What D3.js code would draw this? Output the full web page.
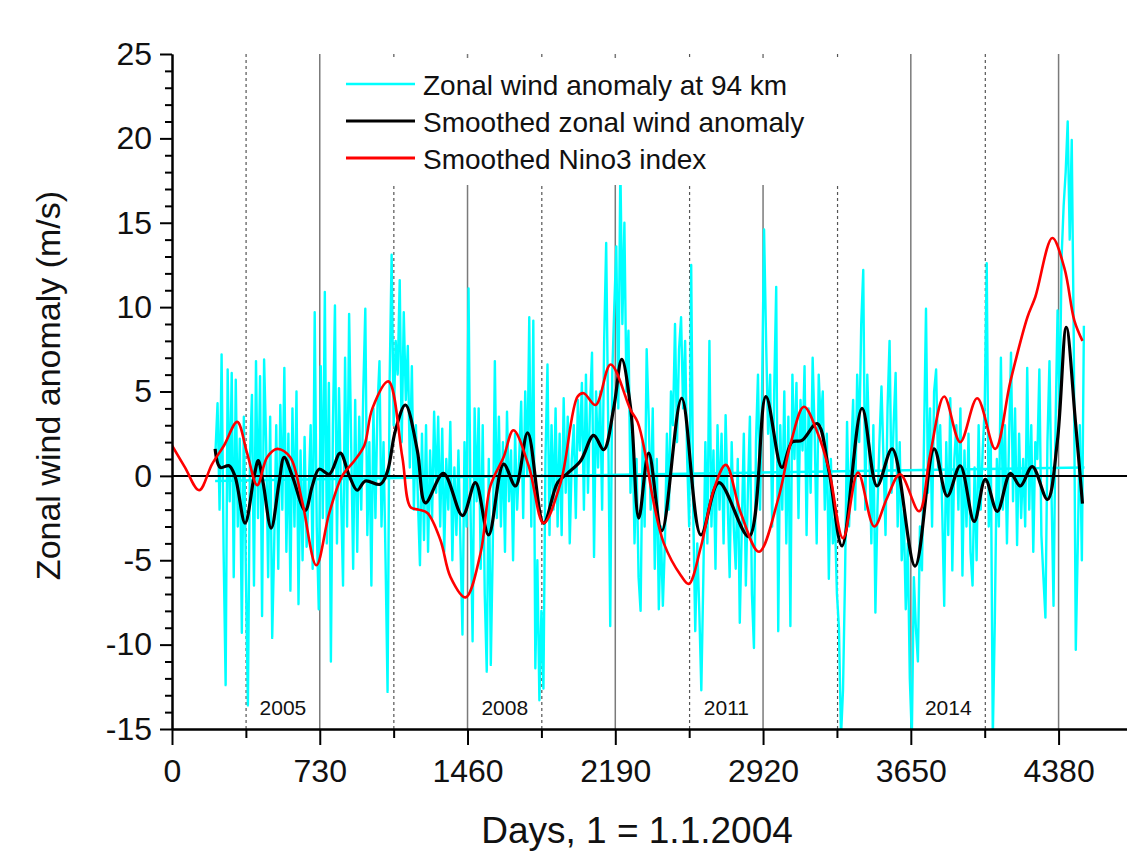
<!DOCTYPE html>
<html>
<head>
<meta charset="utf-8">
<script src="https://cdn.jsdelivr.net/npm/d3@7"></script>
<style>
  body { margin: 0; background: #fff; }
  text { font-family: "Liberation Sans", Arial, sans-serif; fill: #111; }
</style>
</head>
<body>
<svg id="chart" width="1127" height="855"></svg>
<script>
// ---------------- data ----------------
// zonal wind anomaly at 94 km, one value every 10 days from day 215
const windStart = 215;
const windStep = 10;
const windValues = [
  1.5, 4.3, -2.0, 7.2, -4.5, -12.4, 6.3, -1.5, 6.1, -6.0,
  5.7, -3.0, 2.2, -9.3, 3.5, -5.8, -13.6, 1.0, 4.8, -6.5,
  6.8, -2.5, 5.9, -8.3, 6.9, 2.0, -6.0, 3.5, -9.6, -4.0,
  3.0, -5.5, 4.2, -2.0, 6.4, -4.5, 2.5, -6.8, 4.0, -3.0,
  5.0, -7.6, 1.5, -5.0, 2.3, -4.2, -1.0, 3.0, -5.5, 9.7,
  -3.0, -7.9, 6.5, -2.5, 10.9, -4.0, 5.5, -11.0, 3.0, 10.1,
  -4.0, 5.2, -1.0, -6.5, 7.0, -3.0, 9.6, 2.0, -5.5, 4.5,
  -4.5, 3.5, -2.0, 5.0, 9.9, -3.5, 2.0, -6.5, 4.0, -2.5,
  4.0, 6.8, -3.0, 2.0, -5.0, -12.8, 5.5, 13.1, 3.0, 8.0,
  6.0, 11.6, 2.0, 9.7, 4.5, 7.7, 0.5, 6.5, -2.0, 3.0,
  -1.5, -5.3, 2.5, -3.8, 3.0, -4.5, 1.5, -2.5, 3.8, -1.0,
  3.5, -3.0, 2.8, -4.5, 1.0, -2.0, 3.2, -5.0, 0.5, -3.5,
  1.5, -4.0, -9.4, 2.0, -3.0, 11.1, -2.0, -9.8, 4.0, -1.5,
  4.0, -5.5, 3.0, -7.0, -11.6, 1.0, -11.2, -4.0, 6.8, -2.5,
  3.5, -3.0, 2.0, -4.5, 3.8, -1.5, 1.5, -5.0, 2.5, -2.0,
  1.0, 4.4, -2.5, 5.0, 0.0, 9.4, -3.0, 9.2, -11.4, -5.0,
  -13.3, -8.0, -12.6, 1.0, 6.6, -3.5, 3.0, -2.0, 4.0, -3.0,
  2.5, -3.5, 4.6, -1.0, 3.5, -4.0, 1.0, 3.0, -2.5, 4.5,
  1.5, 5.5, -2.0, 6.0, -1.0, 4.0, 7.3, -4.8, 5.0, 0.5,
  5.0, -2.0, 8.0, 13.8, 3.0, -8.9, 6.0, 10.0, 13.6, 4.0,
  18.5, 9.0, 15.0, 5.0, 8.6, -1.0, 3.0, -4.0, 1.0, -6.0,
  -8.0, 2.0, -3.0, 7.5, 3.5, -2.0, 4.0, -5.5, 1.0, -7.9,
  -3.0, -7.7, -4.0, 2.5, -2.0, 5.0, 3.0, 9.0, 2.0, 7.5,
  9.4, 4.0, 8.0, 1.0, -3.0, 12.5, -2.0, -9.2, -4.0, -8.0,
  -12.7, -6.0, 2.0, -4.0, 8.0, -3.0, 1.5, -5.5, 3.0, -2.0,
  2.5, -4.0, 3.6, -1.5, -6.0, 2.0, -3.0, -5.5, 1.0, -8.7,
  -3.0, 2.5, -6.5, -1.0, 3.5, -7.0, -10.2, 2.0, 6.0, -2.0,
  5.0, 14.6, 8.0, 2.5, 6.0, -3.0, 5.0, 11.2, -9.2, 3.0,
  -2.0, 5.0, -4.0, 3.5, -8.9, 6.0, 1.0, 5.5, -2.5, 4.5,
  1.5, 6.5, -3.5, 4.0, -1.0, 7.0, 2.5, -4.0, 6.0, 3.0,
  5.0, -2.0, 2.5, -6.1, 1.0, -4.0, -2.5, -7.0, -9.0, -15.5,
  -12.7, -6.0, 3.2, -3.0, 1.0, 4.5, -2.0, 6.0, 2.0, 9.0,
  12.2, -2.0, 6.0, 1.5, -4.0, 3.0, -8.1, -2.0, 2.0, 5.3,
  1.0, -3.5, 4.0, 8.0, -1.0, 3.0, 6.1, -3.0, 2.0, -5.0,
  -2.0, -7.9, -4.0, -12.0, -15.5, -6.0, -9.0, -11.0, -3.0, -5.6,
  2.0, 9.9, -1.0, 4.0, -3.0, 5.0, 6.3, 0.5, 3.0, -2.0,
  -7.7, 2.0, -3.5, 4.6, -5.6, 1.0, 3.0, -2.0, 4.0, -5.9,
  1.5, -3.0, 2.5, -4.5, -6.5, 0.5, -5.0, 3.0, -2.0, 1.5,
  4.0, 12.6, -3.0, 2.0, -15.5, -8.6, 1.0, -3.0, 7.0, -2.0,
  3.0, -4.0, 2.0, 7.3, -1.5, 4.0, -4.1, 2.5, -2.5, 1.0,
  -3.0, 6.4, -2.0, 3.0, -4.5, 2.0, 1.0, 6.3, -3.5, -6.0,
  -8.4, 2.0, 6.8, -1.0, -7.7, 3.0, 9.8, 4.0, 13.0, 16.0,
  18.0, 21.0, 14.0, 19.9, 8.0, -10.3, -4.0, 3.0, -5.0, 8.9
];

// linear trend of the wind anomaly [day, m/s]
const windTrend = [[213, -0.3], [4508, 0.5]];

// smoothed zonal wind anomaly [day, m/s]
const windSmooth = [
  [213, 1.6], [238, 0.5], [282, 0.6], [312, -0.05], [361, -2.8], [406, 0], [426, 0.9],
  [450, -0.4], [490, -3.1], [529, -0.4], [554, 1.1], [594, 0], [658, -2.05], [693, -0.6],
  [727, 0.4], [777, 0.1], [831, 1.35], [876, 0], [915, -0.85], [955, -0.3], [1029, -0.5],
  [1064, 0.25], [1103, 2.65], [1153, 4.2], [1212, 1.5], [1252, -1.6], [1341, 0.15],
  [1435, -2.35], [1499, -0.4], [1564, -3.5], [1638, 0.7], [1697, -0.6], [1757, 2.55],
  [1836, -2.8], [1905, -0.4], [1954, 0.15], [2019, 0.9], [2083, 2.4], [2133, 1.55],
  [2182, 4.0], [2222, 6.9], [2266, 4.0], [2306, -2.5], [2355, 1.35], [2420, -3.25],
  [2518, 4.6], [2613, -3.5], [2702, -0.4], [2850, -3.6], [2934, 4.7], [3013, 0.5],
  [3063, 2.0], [3112, 2.1], [3187, 3.1], [3246, 0.25], [3310, -4.15], [3409, 4.0],
  [3483, -0.6], [3558, 1.6], [3671, -5.35], [3765, 1.6], [3830, -1.2], [3894, 0.6],
  [3963, -2.7], [4018, -0.2], [4077, -2.1], [4142, 0.15], [4191, -0.6], [4250, 0.55],
  [4325, -1.4], [4374, 2.05], [4418, 8.8], [4463, 3.25], [4498, -1.65]
];

// smoothed Nino3 index (scaled) [day, value]
const ninoSmooth = [
  [0, 1.8], [64, 0.5], [134, -0.85], [198, 0.7], [257, 1.8], [322, 3.2], [371, 1.35],
  [421, -0.55], [470, 1.1], [520, 1.6], [584, 1.1], [643, -1.5], [713, -5.3], [777, -2.2],
  [841, 0], [901, 0.9], [950, 1.8], [990, 4.0], [1069, 5.6], [1138, 1.1], [1178, -1.85],
  [1217, -2.0], [1262, -2.2], [1326, -3.8], [1376, -6.0], [1450, -7.2], [1524, -4.6],
  [1573, -0.6], [1638, 1.1], [1687, 2.7], [1762, 0.6], [1836, -2.8], [1920, -0.4],
  [2004, 4.7], [2034, 4.9], [2093, 4.2], [2167, 6.6], [2266, 3.9], [2300, 3.2],
  [2340, 1.2], [2375, -1.3], [2430, -4.0], [2514, -5.9], [2553, -6.4], [2613, -4.2],
  [2677, -0.8], [2736, 0.65], [2810, -2.2], [2900, -4.5], [2994, -1.4], [3058, 2.0],
  [3122, 4.1], [3191, 2.5], [3246, 0.35], [3315, -3.7], [3389, 0.2], [3469, -3.0],
  [3533, -1.3], [3597, 0.1], [3691, -2.1], [3746, 1.3], [3815, 4.7], [3894, 2.0],
  [3978, 4.6], [4067, 1.6], [4142, 5.6], [4226, 9.4], [4265, 10.6], [4349, 14.1],
  [4409, 12.3], [4458, 9.2], [4498, 8.0]
];

const xTicks = [0, 730, 1460, 2190, 2920, 3650, 4380];
const yearStarts = [366, 1096, 1827, 2557, 3288, 4018];   // dashed lines
const yearLabels = [
  { day: 548, text: "2005" },
  { day: 1644, text: "2008" },
  { day: 2739, text: "2011" },
  { day: 3835, text: "2014" }
];
const legendItems = [
  { text: "Zonal wind anomaly at 94 km", color: "#00ffff", width: 2.5 },
  { text: "Smoothed zonal wind anomaly", color: "#000", width: 3 },
  { text: "Smoothed Nino3 index", color: "#ff0000", width: 3 }
];

// ---------------- chart ----------------
const svg = d3.select("#chart");
const plotL = 172, plotR = 1127, plotT = 54, plotB = 729;

const x = d3.scaleLinear().domain([0, 4718]).range([plotL, plotR]);
const y = d3.scaleLinear().domain([-15, 25]).range([plotB, plotT]);

svg.append("defs").append("clipPath").attr("id", "plotClip")
  .append("rect")
    .attr("x", plotL).attr("y", plotT)
    .attr("width", plotR - plotL).attr("height", plotB - plotT);

// vertical guide lines
svg.append("g")
  .selectAll("line")
  .data(xTicks.slice(1))
  .join("line")
    .attr("x1", d => x(d)).attr("x2", d => x(d))
    .attr("y1", plotT).attr("y2", plotB)
    .attr("stroke", "#7a7a7a")
    .attr("stroke-width", 1.5);

svg.append("g")
  .selectAll("line")
  .data(yearStarts)
  .join("line")
    .attr("x1", d => x(d)).attr("x2", d => x(d))
    .attr("y1", plotT).attr("y2", plotB)
    .attr("stroke", "#555")
    .attr("stroke-width", 1.2)
    .attr("stroke-dasharray", "3,3");

const plot = svg.append("g").attr("clip-path", "url(#plotClip)");

const windPoints = windValues.map((v, i) => [windStart + i * windStep, v]);
const straight = d3.line().x(d => x(d[0])).y(d => y(d[1]));
const smooth = d3.line().x(d => x(d[0])).y(d => y(d[1])).curve(d3.curveCatmullRom.alpha(0.5));

plot.append("path")
  .attr("d", straight(windPoints))
  .attr("fill", "none")
  .attr("stroke", "#00ffff")
  .attr("stroke-width", 2.4)
  .attr("stroke-linejoin", "round");

plot.append("path")
  .attr("d", straight(windTrend))
  .attr("fill", "none")
  .attr("stroke", "#00ffff")
  .attr("stroke-width", 2.5);

// zero line
plot.append("line")
  .attr("x1", plotL).attr("x2", plotR)
  .attr("y1", y(0)).attr("y2", y(0))
  .attr("stroke", "#000")
  .attr("stroke-width", 2);

plot.append("path")
  .attr("d", smooth(windSmooth))
  .attr("fill", "none")
  .attr("stroke", "#000")
  .attr("stroke-width", 3.2);

plot.append("path")
  .attr("d", smooth(ninoSmooth))
  .attr("fill", "none")
  .attr("stroke", "#ff0000")
  .attr("stroke-width", 2.6);

// year labels
svg.append("g")
  .selectAll("text")
  .data(yearLabels)
  .join("text")
    .attr("x", d => x(d.day))
    .attr("y", 715)
    .attr("text-anchor", "middle")
    .style("font-size", "21px")
    .text(d => d.text);

// legend (white box hides the guide lines behind it)
const legend = svg.append("g");
legend.append("rect")
  .attr("x", 330).attr("y", 58)
  .attr("width", 515).attr("height", 127)
  .attr("fill", "#fff");
const legendRow = legend.selectAll("g")
  .data(legendItems)
  .join("g")
    .attr("transform", (d, i) => `translate(346, ${84 + i * 37})`);
legendRow.append("line")
  .attr("x1", 0).attr("x2", 69)
  .attr("stroke", d => d.color)
  .attr("stroke-width", d => d.width);
legendRow.append("text")
  .attr("x", 77)
  .attr("y", 11)
  .style("font-size", "28px")
  .text(d => d.text);

// axes
const styleAxis = (g) => {
  g.select(".domain").attr("stroke", "#000").attr("stroke-width", 2);
  g.selectAll(".tick line").attr("stroke", "#000").attr("stroke-width", 2);
  g.selectAll(".tick text").style("font-size", "32px").attr("fill", "#111");
};
const plain = d => String(d);   // hyphen minus, no thousands comma

svg.append("g")
  .attr("transform", `translate(0, ${plotB})`)
  .call(d3.axisBottom(x).tickValues(d3.range(365, 4718, 730)).tickSize(9).tickSizeOuter(0).tickFormat(""))
  .call(styleAxis);
svg.append("g")
  .attr("transform", `translate(0, ${plotB})`)
  .call(d3.axisBottom(x).tickValues(xTicks).tickSize(16).tickSizeOuter(0).tickPadding(14).tickFormat(plain))
  .call(styleAxis);

svg.append("g")
  .attr("transform", `translate(${plotL}, 0)`)
  .call(d3.axisLeft(y).tickValues(d3.range(-15, 26, 1).filter(v => v % 5 !== 0)).tickSize(7).tickSizeOuter(0).tickFormat(""))
  .call(styleAxis);
svg.append("g")
  .attr("transform", `translate(${plotL}, 0)`)
  .call(d3.axisLeft(y).tickValues(d3.range(-15, 26, 5)).tickSize(12).tickSizeOuter(0).tickPadding(8).tickFormat(plain))
  .call(styleAxis);

// axis titles
svg.append("text")
  .attr("x", 637)
  .attr("y", 843)
  .attr("text-anchor", "middle")
  .style("font-size", "37px")
  .text("Days, 1 = 1.1.2004");

svg.append("text")
  .attr("transform", `translate(60, ${(plotT + plotB) / 2 - 6}) rotate(-90)`)
  .attr("text-anchor", "middle")
  .style("font-size", "34px")
  .text("Zonal wind anomaly (m/s)");
</script>
</body>
</html>
